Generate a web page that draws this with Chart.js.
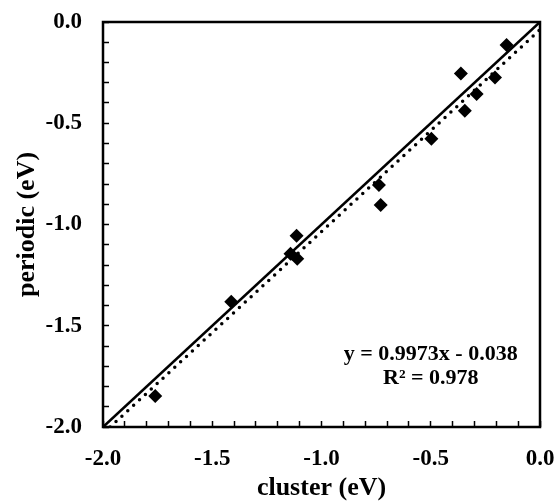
<!DOCTYPE html>
<html>
<head>
<meta charset="utf-8">
<script src="https://cdn.jsdelivr.net/npm/chart.js@4.4.1/dist/chart.umd.min.js"></script>
<style>
  html, body { margin: 0; padding: 0; background: #ffffff; }
  #wrap { width: 557px; height: 504px; position: relative; }
</style>
</head>
<body>
<div id="wrap"><canvas id="chart"></canvas></div>
<script>
// Adsorption energies: cluster model vs periodic model (eV)
const clusterEv  = [-0.153, -0.362, -0.206, -0.290, -0.344, -0.497, -0.737, -0.729, -1.114, -1.142, -1.111, -1.413, -1.761];
const periodicEv = [-0.114, -0.254, -0.274, -0.355, -0.438, -0.576, -0.805, -0.904, -1.055, -1.145, -1.169, -1.381, -1.847];

// Axis range and tick spacing (minor ticks every 0.1, labels every 0.5)
const axisMin = -2.0;
const axisMax = 0.0;
const minorStep = 0.1;
const labelStep = 0.5;

// Linear fit reported on the plot
const fitSlope = 0.9973;
const fitIntercept = -0.038;
const fitR2 = 0.978;

const FONT = "'Liberation Serif', 'Times New Roman', serif";

// y = x parity line
const parityLine = [{ x: axisMin, y: axisMin }, { x: axisMax, y: axisMax }];
// fitted trend line, from where it enters the plot at the bottom edge to the right edge
const fitStartX = (axisMin - fitIntercept) / fitSlope;
const fitLine = [
  { x: fitStartX, y: fitSlope * fitStartX + fitIntercept },
  { x: axisMax, y: fitSlope * axisMax + fitIntercept }
];

const points = clusterEv.map((x, i) => ({ x: x, y: periodicEv[i] }));

const tickLabel = (v) => {
  const k = v / labelStep;
  return Math.abs(k - Math.round(k)) < 1e-6 ? v.toFixed(1) : '';
};

// frame around the plotting area
const framePlugin = {
  id: 'frame',
  afterDraw(chart) {
    const { ctx, chartArea: a } = chart;
    ctx.save();
    ctx.strokeStyle = '#000';
    ctx.lineWidth = 2.5;
    ctx.strokeRect(a.left, a.top, a.right - a.left, a.bottom - a.top);
    ctx.restore();
  }
};

// regression equation and R² text
const equationPlugin = {
  id: 'equation',
  afterDraw(chart) {
    const { ctx, scales } = chart;
    const cx = scales.x.getPixelForValue(-0.5);
    const y1 = scales.y.getPixelForValue(-1.64);
    const y2 = scales.y.getPixelForValue(-1.758);
    ctx.save();
    ctx.fillStyle = '#000';
    ctx.font = "bold 22px " + FONT;
    ctx.textAlign = 'center';
    ctx.textBaseline = 'middle';
    const sign = fitIntercept < 0 ? ' - ' : ' + ';
    ctx.fillText('y = ' + fitSlope.toFixed(4) + 'x' + sign + Math.abs(fitIntercept).toFixed(3), cx, y1);
    ctx.fillText('R\u00B2 = ' + fitR2.toFixed(3), cx, y2);
    ctx.restore();
  }
};

// keep the axes from reserving extra room for overhanging end labels
const noOverhang = (scale) => {
  scale.paddingLeft = 0;
  scale.paddingRight = 0;
  scale.paddingTop = 0;
  scale.paddingBottom = 0;
};

const axisCommon = {
  type: 'linear',
  min: axisMin,
  max: axisMax,
  border: { display: false },
  grid: {
    display: true,
    drawOnChartArea: false,
    drawTicks: true,
    tickLength: -6,
    tickWidth: 1.5,
    tickColor: '#000'
  }
};

new Chart(document.getElementById('chart'), {
  type: 'scatter',
  data: {
    datasets: [
      {
        label: 'data',
        data: points,
        pointStyle: 'rectRot',
        pointRadius: 7,
        pointBorderWidth: 0,
        pointBackgroundColor: '#000',
        pointBorderColor: '#000',
        showLine: false
      },
      {
        label: 'y = x',
        data: parityLine,
        showLine: true,
        borderColor: '#000',
        borderWidth: 2.6,
        pointRadius: 0
      },
      {
        label: 'fit',
        data: fitLine,
        showLine: true,
        borderColor: '#000',
        borderWidth: 3.5,
        borderDash: [0, 8],
        borderCapStyle: 'round',
        pointRadius: 0
      }
    ]
  },
  options: {
    responsive: true,
    maintainAspectRatio: false,
    animation: false,
    events: [],
    layout: { padding: { top: 22, right: 17, left: 0, bottom: 0 } },
    plugins: {
      legend: { display: false },
      tooltip: { enabled: false }
    },
    scales: {
      x: Object.assign({}, axisCommon, {
        position: 'bottom',
        afterFit(scale) { scale.height = 77; noOverhang(scale); },
        ticks: {
          stepSize: minorStep,
          autoSkip: false,
          maxRotation: 0,
          padding: 24,
          color: '#000',
          font: { family: FONT, size: 23, weight: 'bold' },
          callback: tickLabel
        },
        title: {
          display: true,
          text: 'cluster (eV)',
          color: '#000',
          font: { family: FONT, size: 26, weight: 'bold' },
          padding: { top: 0, bottom: 0 }
        }
      }),
      y: Object.assign({}, axisCommon, {
        position: 'left',
        afterFit(scale) { scale.width = 103; noOverhang(scale); },
        ticks: {
          stepSize: minorStep,
          autoSkip: false,
          padding: 27,
          color: '#000',
          font: { family: FONT, size: 23, weight: 'bold' },
          callback: tickLabel
        },
        title: {
          display: true,
          text: 'periodic (eV)',
          color: '#000',
          font: { family: FONT, size: 26, weight: 'bold' },
          padding: { top: 12, bottom: 0 }
        }
      })
    }
  },
  plugins: [framePlugin, equationPlugin]
});
</script>
</body>
</html>
